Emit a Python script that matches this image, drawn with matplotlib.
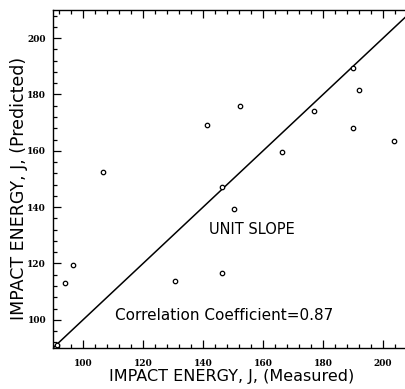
import matplotlib
matplotlib.use("Agg")
import matplotlib.pyplot as plt
from matplotlib.ticker import MultipleLocator

# Data
measured = [91.3, 94.0, 96.8, 106.8, 130.7, 141.3, 146.4, 146.4, 150.4, 152.3,
            166.2, 177.0, 189.9, 189.9, 192.0, 203.8]
predicted = [91.0, 113.2, 119.4, 152.5, 113.8, 169.3, 147.2, 116.8, 139.3, 175.9,
             159.7, 174.1, 189.5, 168.1, 181.5, 163.4]
unit_line = [90, 210]
xticks = [100, 120, 140, 160, 180, 200]
yticks = [100, 120, 140, 160, 180, 200]

W, H = 405, 389
fig = plt.figure(figsize=(W / 100, H / 100), dpi=100)
ax = fig.add_axes([53 / W, 41 / H, 360 / W, 338 / H])

ax.plot(unit_line, unit_line, color="black", lw=1.1)
ax.plot(measured, predicted, linestyle="none", marker="o", markersize=3.2,
        markerfacecolor="white", markeredgecolor="black", markeredgewidth=0.9)

ax.set_xlim(90, 210)
ax.set_ylim(90, 210)
ax.set_xticks(xticks)
ax.set_yticks(yticks)
ax.xaxis.set_minor_locator(MultipleLocator(4))
ax.yaxis.set_minor_locator(MultipleLocator(4))
ax.tick_params(which="both", direction="in", top=True, right=True, width=0.9)
ax.tick_params(which="major", length=6, labelsize=6.5)
ax.tick_params(which="minor", length=3)
ax.tick_params(axis="x", which="major", pad=8)
ax.tick_params(axis="y", which="major", pad=5)
for lab in ax.get_xticklabels() + ax.get_yticklabels():
    lab.set_fontweight("bold")
    lab.set_family("DejaVu Serif")
for sp in ax.spines.values():
    sp.set_linewidth(1.0)

ax.set_xlabel("IMPACT ENERGY, J, (Measured)", fontsize=11.5)
ax.set_ylabel("IMPACT ENERGY, J, (Predicted)", fontsize=12.5)
ax.xaxis.set_label_coords(0.497, -0.063)
ax.yaxis.set_label_coords(-0.07, 0.473)

ax.text(156.3, 132.2, "UNIT SLOPE", fontsize=10.5, ha="center", va="center")
ax.text(110.7, 101.7, "Correlation Coefficient=0.87", fontsize=11,
        ha="left", va="center")

fig.savefig("out.png", dpi=100)
